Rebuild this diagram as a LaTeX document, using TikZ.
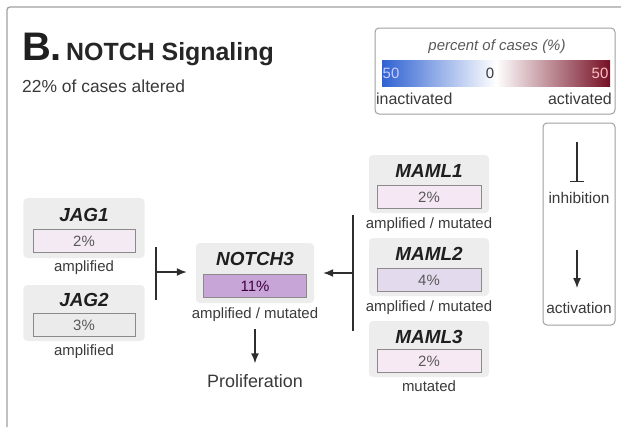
\documentclass[tikz,border=0pt]{standalone}
\usepackage{fontspec}
\setmainfont{Liberation Sans}
\usetikzlibrary{arrows.meta}
\definecolor{txt}{HTML}{3A3A3A}
\definecolor{linec}{HTML}{2E2E2E}
\definecolor{framec}{HTML}{A0A0A0}
\definecolor{bgc}{HTML}{EDEDED}
\definecolor{barline}{HTML}{8A8A8A}
\definecolor{fJAGa}{HTML}{F4EAF4}
\definecolor{fJAGb}{HTML}{EBEBEB}
\definecolor{fNOTCH}{HTML}{C7A5D7}
\definecolor{fMAMLa}{HTML}{F5E7F3}
\definecolor{fMAMLb}{HTML}{E4DAED}
\definecolor{fMAMLc}{HTML}{F6E9F4}
\definecolor{lblue}{HTML}{2F62D2}
\definecolor{ldred}{HTML}{761024}
\tikzset{
  fs/.style={font=\fontsize{#1}{#1}\selectfont},
  genelabel/.style={font=\bfseries\itshape\fontsize{19}{19}\selectfont, text=black!88, inner sep=1bp},
  pctbar/.style={draw=barline, line width=0.9bp, minimum width=102bp, minimum height=23bp, inner sep=0pt, font=\fontsize{15}{15}\selectfont, text=black!65},
  annot/.style={font=\fontsize{15}{15}\selectfont, text=txt, inner sep=2bp, text height=11bp, text depth=3bp},
  genebg/.style={fill=bgc, rounded corners=4bp, inner sep=0pt},
  act/.style={draw=linec, line width=1.5bp, -{Latex[length=10bp,width=8bp]}},
  plainline/.style={draw=linec, line width=1.5bp},
  boxframe/.style={draw=framec, line width=1bp, rounded corners=4bp, inner sep=0pt}
}
\begin{document}
\begin{tikzpicture}[x=1bp,y=-1bp]
\useasboundingbox (0,0) rectangle (621,427);
\fill[white] (0,0) rectangle (621,427);
% panel frame
\draw[framec, line width=1.3bp, rounded corners=3bp] (7,427) -- (7,7) -- (621,7);

% title
\node[anchor=base west, inner sep=0pt, font=\bfseries\fontsize{40}{40}\selectfont, text=black!88] (blabel) at (22,60) {B.};
\node[anchor=base west, inner sep=0pt, font=\bfseries\fontsize{25}{25}\selectfont, text=black!85] (title) at (66,60) {NOTCH Signaling};
\node[anchor=base west, inner sep=0pt, fs=17.5, text=txt] (subtitle) at (22,92) {22\% of cases altered};

% legend
\node[boxframe, minimum width=240bp, minimum height=86bp] (legend) at (495,71) {};
\node[font=\itshape\fontsize{15}{15}\selectfont, text=black!65] (legtitle) at (497,47) {percent of cases (\%)};
\shade[left color=lblue, right color=ldred, middle color=white] (382,60) rectangle (610,86);
\node[fs=15, text=blue!20] (lfifty) at (391,73) {50};
\node[fs=15, text=txt] (lzero) at (490,73) {0};
\node[fs=15, text=red!25] (rfifty) at (600,73) {50};
\node[anchor=west, fs=16, text=txt, inner sep=0pt] (inact) at (376,99) {inactivated};
\node[anchor=east, fs=16, text=txt, inner sep=0pt] (activ) at (612,99) {activated};

% key
\node[boxframe, minimum width=72bp, minimum height=202bp] (key) at (579,224) {};
\coordinate (inhtop) at (577,142);
\coordinate (inhbot) at (577,182);
\draw[plainline, line width=1.3bp, -{Bar[width=14bp]}] (inhtop) -- (inhbot);
\node[fs=15.5, text=txt] (inhtxt) at (579,198) {inhibition};
\coordinate (acttop) at (577,250);
\coordinate (actbot) at (577,288);
\draw[act, line width=1.3bp] (acttop) -- (actbot);
\node[fs=15.5, text=txt] (acttxt) at (579,308) {activation};

% gene backgrounds
\node[genebg, minimum width=121bp, minimum height=60bp] (bgJa) at (84,228) {};
\node[genebg, minimum width=121bp, minimum height=56bp] (bgJb) at (84,313) {};
\node[genebg, minimum width=118bp, minimum height=60bp] (bgN) at (255,273) {};
\node[genebg, minimum width=120bp, minimum height=58bp] (bgMa) at (429,184) {};
\node[genebg, minimum width=120bp, minimum height=58bp] (bgMb) at (429,267) {};
\node[genebg, minimum width=120bp, minimum height=56bp] (bgMc) at (429,349) {};

% JAG1
\node[genelabel] (jag1) at (84,215) {JAG1};
\node[pctbar, fill=fJAGa] (jag1bar) at (84,241) {2\%};
\node[annot] (jag1ann) at (84,267) {amplified};
% JAG2
\node[genelabel] (jag2) at (84,300) {JAG2};
\node[pctbar, fill=fJAGb] (jag2bar) at (84,325) {3\%};
\node[annot] (jag2ann) at (84,351) {amplified};
% NOTCH3
\node[genelabel] (notch3) at (255,259) {NOTCH3};
\node[pctbar, fill=fNOTCH, minimum width=103bp, text=violet!50!black] (notch3bar) at (255,286) {11\%};
\node[annot] (notch3ann) at (255,314) {amplified / mutated};
\node[fs=18, text=txt, inner sep=2bp, text height=13bp, text depth=4bp] (prolif) at (255,383) {Proliferation};
% MAML1
\node[genelabel] (maml1) at (429,171) {MAML1};
\node[pctbar, fill=fMAMLa, minimum width=104bp] (maml1bar) at (429,197) {2\%};
\node[annot] (maml1ann) at (429,224) {amplified / mutated};
% MAML2
\node[genelabel] (maml2) at (429,254) {MAML2};
\node[pctbar, fill=fMAMLb, minimum width=104bp] (maml2bar) at (429,280) {4\%};
\node[annot] (maml2ann) at (429,307) {amplified / mutated};
% MAML3
\node[genelabel] (maml3) at (429,337) {MAML3};
\node[pctbar, fill=fMAMLc, minimum width=104bp] (maml3bar) at (429,361) {2\%};
\node[annot] (maml3ann) at (429,387) {mutated};

% connectors
\coordinate (jtop) at (156,247);
\coordinate (jbot) at (156,300);
\coordinate (jmid) at (156,272);
\draw[plainline] (jtop) -- (jbot);
\draw[act, shorten >=9bp] (jmid) -- (bgN.west |- jmid);

\coordinate (mtop) at (353,215);
\coordinate (mbot) at (353,331);
\coordinate (mmid) at (353,273);
\draw[plainline] (mtop) -- (mbot);
\draw[act, shorten >=9bp] (mmid) -- (bgN.east |- mmid);

\draw[act, shorten <=6bp, shorten >=9bp] (notch3ann.south) -- (prolif.north);
\end{tikzpicture}
\end{document}
